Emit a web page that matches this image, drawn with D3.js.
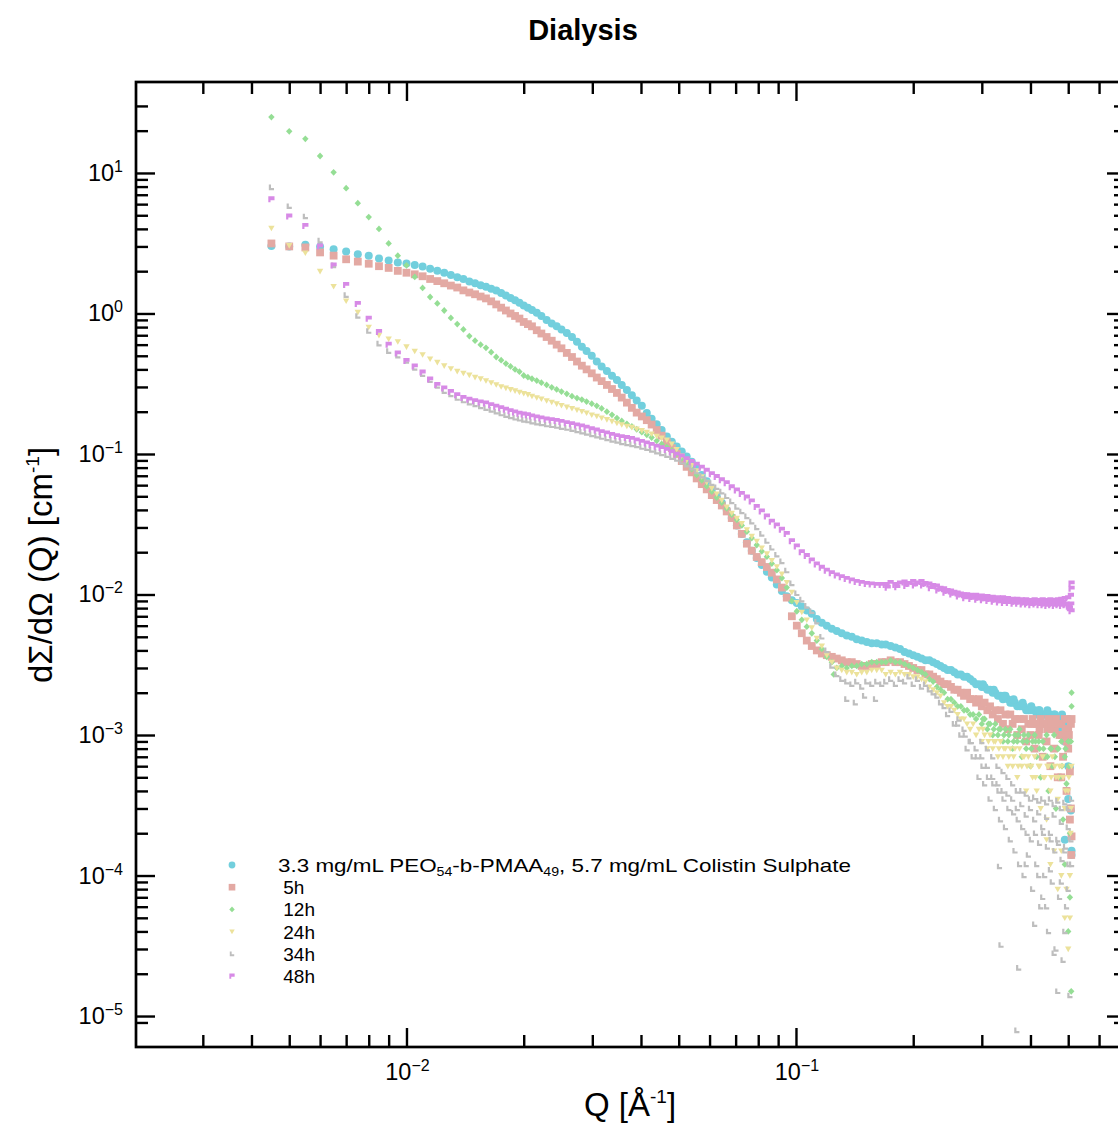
<!DOCTYPE html>
<html><head><meta charset="utf-8">
<script src="https://cdn.jsdelivr.net/npm/d3@7"></script>
<style>body{margin:0;background:#fff}svg{display:block}text{font-family:"Liberation Sans",Arial,Helvetica,sans-serif;fill:#000}</style>
</head><body><svg id="c" width="1118" height="1124"></svg>
<script>
// ---------- DATA ----------
const qValues = [
0.0045,0.0050,0.0055,0.0060,0.0065,0.0070,0.0075,0.0080,0.0085,0.0090,
0.0095,0.0100,0.0105,0.0110,0.0115,0.0120,0.0125,0.0130,0.0135,0.0140,
0.0145,0.0150,0.0155,0.0160,0.0165,0.0170,0.0175,0.0180,0.0185,0.0190,
0.0195,0.0200,
0.0205,0.0210,0.0216,0.0222,0.0229,0.0236,0.0243,0.0250,0.0258,0.0266,
0.0274,0.0282,0.0290,0.0299,0.0308,0.0317,0.0327,0.0337,0.0347,0.0357,
0.0368,0.0379,0.0390,0.0402,0.0414,0.0426,0.0439,0.0452,0.0466,0.0480,
0.0494,0.0509,0.0524,0.0540,0.0556,0.0573,0.0590,0.0608,0.0626,0.0645,
0.0664,0.0684,0.0705,0.0726,0.0748,0.0770,0.0793,0.0817,0.0842,0.0867,
0.0893,0.0920,0.0947,0.0976,0.1005,0.1035,0.1066,0.1098,0.1131,0.1165,
0.1200,0.1236,0.1273,0.1311,0.1350,0.1391,0.1432,0.1475,0.1520,0.1565,
0.1612,0.1660,
0.170,0.175,0.180,0.185,0.190,0.195,0.200,0.205,0.210,0.215,
0.220,0.225,0.230,0.235,0.240,0.245,0.250,0.255,0.260,0.265,
0.270,0.275,0.280,0.285,0.290,0.295,0.300,0.305,0.310,0.315,
0.320,0.325,0.330,0.335,0.340,0.345,0.350,0.355,0.360,0.365,
0.370,0.375,0.380,0.385,0.390,0.395,0.400,0.405,0.410,0.415,
0.420,0.425,0.430,0.435,0.440,0.445,0.450,0.455,0.460,0.465,
0.470,0.475,0.480,0.485,0.490,0.495,0.500,0.505,0.510];

const seriesNames = ["3.3 mg/mL PEO54-b-PMAA49, 5.7 mg/mL Colistin Sulphate"," 5h"," 12h"," 24h"," 34h"," 48h"];

const iStart = [
3.02,3.00,3.08,2.98,2.86,2.76,2.64,2.58,2.46,2.38,
2.31,2.27,2.21,2.16,2.08,2.01,1.95,1.88,1.81,1.76,
1.69,1.64,1.59,1.55,1.50,1.46,1.40,1.34,1.29,1.24,
1.19,1.14,
1.10,1.06,1.01,0.96,0.90,0.85,0.81,0.77,0.727,0.68,
0.63,0.58,0.54,0.50,0.455,0.42,0.39,0.36,0.336,0.31,
0.285,0.262,0.24,0.22,0.196,0.178,0.163,0.148,0.133,0.122,
0.113,0.104,0.096,0.088,0.080,0.071,0.064,0.056,0.050,0.045,
0.040,0.035,0.031,0.027,0.0235,0.0205,0.0182,0.0162,0.0145,0.0132,
0.0118,0.0106,0.0097,0.0091,0.0087,0.0082,0.0077,0.0073,0.0067,0.0063,
0.0060,0.0057,0.0055,0.0053,0.0051,0.0050,0.0048,0.0047,0.0046,0.0045,
0.0045,0.0044,
0.0044,0.0043,0.0042,0.0041,0.0039,0.0038,0.0037,0.0036,0.0035,0.0034,
0.0034,0.0033,0.0032,0.0031,0.0030,0.0029,0.0029,0.0028,0.0027,0.0027,
0.0026,0.0026,0.0025,0.0024,0.0023,0.0023,0.0022,0.0022,0.0021,0.0021,
0.0020,0.0020,0.0019,0.0019,0.0018,0.0019,0.0018,0.0017,0.0017,0.0017,
0.0016,0.0016,0.0016,0.0016,0.0015,0.0015,0.0015,0.0015,0.0015,0.0014,
0.0015,0.0014,0.0014,0.0014,0.0014,0.0013,0.0014,0.0013,0.0014,0.0013,
0.0012,0.0013,0.0011,0.0012,0.0009,0.0012,0.0006,0.0003,0.00015];

const i5h = [
3.15,3.00,2.95,2.72,2.58,2.43,2.34,2.26,2.17,2.11,
2.01,1.95,1.90,1.84,1.76,1.70,1.64,1.58,1.53,1.46,
1.41,1.37,1.32,1.28,1.22,1.16,1.10,1.05,1.00,0.96,
0.92,0.87,
0.84,0.81,0.76,0.72,0.68,0.64,0.60,0.565,0.524,0.49,
0.455,0.425,0.40,0.375,0.35,0.33,0.31,0.29,0.272,0.252,
0.232,0.213,0.197,0.185,0.174,0.162,0.148,0.135,0.121,0.110,
0.100,0.089,0.081,0.074,0.067,0.061,0.056,0.051,0.047,0.043,
0.039,0.035,0.031,0.027,0.023,0.0205,0.0185,0.0170,0.0157,0.0143,
0.0128,0.0112,0.0095,0.0070,0.0060,0.0053,0.0047,0.0043,0.0040,0.0038,
0.0037,0.0036,0.0035,0.0034,0.0033,0.0033,0.0032,0.0031,0.0031,0.0032,
0.0032,0.0033,
0.0033,0.0034,0.0033,0.0033,0.0032,0.0031,0.0030,0.0029,0.0029,0.0027,
0.0027,0.0026,0.0025,0.0024,0.0023,0.0023,0.0022,0.0021,0.0021,0.0020,
0.0019,0.0020,0.0018,0.0018,0.0017,0.0018,0.0016,0.0017,0.0015,0.0016,
0.0014,0.0015,0.0013,0.0015,0.0012,0.0014,0.0011,0.0014,0.0012,0.0013,
0.0010,0.0013,0.0011,0.0013,0.0009,0.0012,0.0010,0.0013,0.0008,0.0012,
0.0010,0.0013,0.0007,0.0012,0.0009,0.0013,0.0006,0.0011,0.0008,0.0013,
0.0005,0.0010,0.0012,0.0007,0.0013,0.0004,0.0011,0.00025,0.0013];

const i12h = [
25.0,19.8,17.5,13.2,10.1,7.8,6.1,4.85,4.0,3.15,
2.58,2.20,1.82,1.52,1.31,1.18,1.05,0.93,0.84,0.77,
0.69,0.64,0.60,0.57,0.53,0.49,0.465,0.44,0.42,0.40,
0.385,0.362,
0.352,0.343,0.333,0.322,0.310,0.298,0.288,0.278,0.268,0.258,
0.250,0.244,0.236,0.228,0.220,0.211,0.200,0.190,0.180,0.172,
0.164,0.157,0.150,0.143,0.137,0.131,0.124,0.118,0.112,0.106,
0.100,0.093,0.086,0.078,0.071,0.065,0.059,0.054,0.049,0.045,
0.041,0.037,0.034,0.031,0.028,0.0252,0.0225,0.0203,0.0186,0.0166,
0.0149,0.0131,0.0112,0.0090,0.0076,0.0066,0.0059,0.0053,0.0047,0.0041,
0.0036,0.0033,0.0030,0.0031,0.0030,0.0031,0.0031,0.0032,0.0032,0.0033,
0.0033,0.0033,
0.0033,0.0034,0.0033,0.0033,0.0032,0.0031,0.0030,0.0029,0.0028,0.0027,
0.0025,0.0024,0.0022,0.0021,0.0020,0.0018,0.0018,0.0017,0.0016,0.0016,
0.0015,0.0015,0.0014,0.0014,0.0013,0.0014,0.0012,0.0013,0.0011,0.0012,
0.0010,0.0012,0.0010,0.0011,0.0009,0.0011,0.0009,0.0011,0.0008,0.0010,
0.0009,0.0011,0.0007,0.0010,0.0008,0.0010,0.0006,0.0009,0.0010,0.0007,
0.0009,0.0005,0.0009,0.0007,0.0010,0.0004,0.0008,0.0006,0.0010,0.0003,
0.0008,0.0005,0.0009,0.00025,0.0007,0.00045,0.0009,0.0002,0.0020];

const i24h = [
4.05,3.05,2.70,2.00,1.56,1.23,1.02,0.80,0.70,0.66,
0.63,0.58,0.54,0.51,0.475,0.45,0.425,0.405,0.388,0.376,
0.365,0.352,0.343,0.333,0.322,0.312,0.302,0.295,0.288,0.282,
0.276,0.270,
0.265,0.258,0.252,0.247,0.240,0.234,0.228,0.222,0.216,0.211,
0.206,0.201,0.196,0.190,0.186,0.181,0.176,0.171,0.166,0.162,
0.158,0.155,0.151,0.147,0.143,0.139,0.134,0.130,0.126,0.118,
0.108,0.097,0.090,0.083,0.076,0.069,0.063,0.057,0.052,0.047,
0.042,0.038,0.035,0.032,0.029,0.026,0.024,0.0215,0.0195,0.0175,
0.0158,0.0140,0.0122,0.0104,0.0088,0.0075,0.0066,0.0058,0.0049,0.0043,
0.0037,0.0033,0.0030,0.0029,0.0028,0.0028,0.0027,0.0028,0.0028,0.0029,
0.0029,0.0029,
0.0027,0.0028,0.0027,0.0028,0.0027,0.0027,0.0026,0.0026,0.0025,0.0024,
0.0022,0.0021,0.0020,0.0019,0.0017,0.0016,0.0016,0.0015,0.0014,0.0013,
0.0013,0.0012,0.0011,0.0012,0.0010,0.0011,0.0009,0.0010,0.0008,0.0010,
0.0008,0.0009,0.0007,0.0009,0.0007,0.0008,0.0006,0.0008,0.0006,0.0008,
0.0005,0.0008,0.0006,0.0007,0.0004,0.0007,0.0006,0.0005,0.0007,0.0004,
0.0006,0.0003,0.0007,0.0005,0.00025,0.0006,0.0004,0.0007,0.00015,0.0005,
0.00035,0.0006,0.0001,0.0005,0.0003,0.00008,0.0004,0.00005,0.0006];

const i34h = [
7.9,5.8,4.9,3.3,2.2,1.35,0.96,0.75,0.61,0.54,
0.50,0.46,0.41,0.37,0.335,0.305,0.28,0.265,0.25,0.24,
0.232,0.225,0.218,0.212,0.206,0.200,0.194,0.189,0.185,0.181,
0.178,0.175,
0.173,0.170,0.167,0.165,0.162,0.160,0.158,0.155,0.153,0.150,
0.147,0.144,0.141,0.138,0.135,0.132,0.129,0.126,0.124,0.121,
0.119,0.117,0.115,0.112,0.110,0.107,0.104,0.101,0.098,0.095,
0.092,0.088,0.084,0.080,0.075,0.070,0.066,0.062,0.058,0.054,
0.050,0.046,0.042,0.039,0.036,0.033,0.030,0.027,0.024,0.0215,
0.0192,0.0172,0.0148,0.0120,0.0102,0.0092,0.0083,0.0076,0.0064,0.0050,
0.0040,0.0031,0.0027,0.0025,0.0024,0.0023,0.0024,0.0022,0.0024,0.0023,
0.0024,0.0023,
0.0024,0.0025,0.0023,0.0025,0.0024,0.0026,0.0023,0.0025,0.0022,0.0023,
0.0021,0.0020,0.0019,0.0017,0.0016,0.0014,0.0015,0.0012,0.0012,0.0010,
0.0011,0.0008,0.0009,0.0007,0.0008,0.0005,0.0007,0.00045,0.0006,0.00035,
0.0005,0.0003,0.00045,0.00025,0.0004,0.00022,0.00038,0.00018,0.00035,0.00015,
0.0003,0.00012,0.00032,0.0001,0.00027,0.00014,0.0003,0.00008,0.00025,0.00012,
0.00028,0.00006,0.00022,0.0001,0.00026,0.00004,0.0002,0.00009,0.00027,0.00003,
0.00018,0.00007,0.00024,0.000025,0.00015,0.00006,0.00022,0.000014,0.00012];

const i48h = [
6.5,4.9,4.2,3.0,2.2,1.6,1.17,0.92,0.74,0.60,
0.52,0.46,0.42,0.38,0.34,0.31,0.293,0.277,0.262,0.251,
0.244,0.238,0.233,0.229,0.223,0.217,0.212,0.207,0.202,0.198,
0.194,0.191,
0.189,0.185,0.182,0.179,0.176,0.174,0.172,0.169,0.166,0.163,
0.160,0.157,0.154,0.150,0.147,0.143,0.140,0.137,0.134,0.132,
0.130,0.128,0.125,0.122,0.119,0.116,0.113,0.110,0.107,0.103,
0.099,0.096,0.092,0.088,0.084,0.080,0.076,0.072,0.0686,0.065,
0.062,0.058,0.055,0.052,0.049,0.046,0.042,0.039,0.036,0.033,
0.031,0.029,0.027,0.024,0.022,0.020,0.0188,0.0175,0.0164,0.0155,
0.0148,0.0142,0.0137,0.0133,0.0129,0.0126,0.0123,0.0121,0.0119,0.0118,
0.0117,0.0117,
0.0117,0.0121,0.0117,0.0120,0.0122,0.0119,0.0123,0.0120,0.0123,0.0119,
0.0118,0.0115,0.0114,0.0110,0.0109,0.0106,0.0105,0.0103,0.0102,0.0100,
0.0099,0.0099,0.0098,0.0096,0.0098,0.0095,0.0097,0.0094,0.0096,0.0093,
0.0095,0.0092,0.0094,0.0091,0.0094,0.0090,0.0093,0.0090,0.0092,0.0089,
0.0092,0.0089,0.0091,0.0088,0.0091,0.0087,0.0090,0.0088,0.0091,0.0087,
0.0090,0.0087,0.0091,0.0086,0.0090,0.0087,0.0091,0.0086,0.0090,0.0087,
0.0091,0.0086,0.0092,0.0087,0.0093,0.0085,0.0094,0.0080,0.0110];

// extra scattered points read from the noisy high-Q tail: [Q, I]
const extraStart = [[0.302,0.0023],[0.322,0.0021],[0.342,0.0019],[0.362,0.0018],[0.382,0.0017],[0.402,0.0016],
[0.422,0.0015],[0.442,0.0015],[0.462,0.0014],[0.482,0.0014],[0.502,0.0013],
[0.490,0.00018],[0.500,0.00035],[0.505,0.00059],[0.508,0.00029],[0.510,0.00014]];
const extra5h = [[0.402,0.0012],[0.412,0.0012],[0.422,0.0011],[0.432,0.0012],[0.442,0.0011],[0.452,0.0012],
[0.462,0.0011],[0.472,0.0012],[0.482,0.0010],[0.492,0.0011],[0.502,0.0010],[0.508,0.0012],
[0.480,0.0005],[0.495,0.0009],[0.500,0.0008],[0.505,0.00055],[0.508,0.00030],[0.509,0.00014],[0.510,0.00019]];
const extra12h = [[0.125,0.0027],[0.302,0.0013],[0.312,0.0012],[0.322,0.0011],[0.332,0.0011],[0.342,0.0010],
[0.352,0.0010],[0.362,0.0009],[0.372,0.0010],[0.382,0.0009],[0.392,0.0009],[0.402,0.0008],[0.412,0.0009],
[0.422,0.0008],[0.432,0.0008],[0.442,0.0007],[0.452,0.0008],[0.462,0.0007],[0.472,0.0008],[0.482,0.0006],
[0.492,0.0008],[0.502,0.0006],[0.508,0.0009],
[0.490,0.00012],[0.500,0.00004],[0.505,0.00007],[0.509,0.000015],[0.510,0.0016]];
const extra24h = [[0.302,0.0011],[0.312,0.0009],[0.322,0.0009],[0.332,0.0008],[0.342,0.0008],[0.352,0.0007],
[0.362,0.0007],[0.372,0.0006],[0.382,0.0007],[0.392,0.0006],[0.402,0.0006],[0.412,0.0005],[0.422,0.0006],
[0.432,0.0005],[0.442,0.0006],[0.452,0.0005],[0.462,0.0006],[0.472,0.0005],[0.482,0.0006],[0.492,0.0004],
[0.502,0.0005],[0.508,0.0003],[0.507,0.0002],
[0.440,0.00018],[0.450,0.00012],[0.470,0.00008],[0.480,0.00015],[0.490,0.00005],[0.500,0.00003],[0.505,0.0001]];
const extra34h = [[0.135,0.0018],[0.142,0.0017],[0.150,0.0019],[0.160,0.0018],
[0.262,0.0013],[0.272,0.0010],[0.282,0.0009],[0.292,0.0007],[0.302,0.0006],[0.312,0.0005],[0.322,0.00045],
[0.332,0.0004],[0.342,0.00035],[0.352,0.0003],[0.362,0.00028],[0.372,0.00025],[0.382,0.00022],[0.392,0.0002],
[0.402,0.00018],[0.412,0.0002],[0.422,0.00017],[0.432,0.0002],[0.442,0.00016],[0.452,0.00018],[0.462,0.00015],
[0.472,0.00017],[0.482,0.00013],[0.492,0.00016],[0.502,0.00012],[0.508,0.00018],
[0.30,0.0009],[0.31,0.0008],[0.32,0.0007],[0.33,0.0006],[0.34,0.00055],[0.35,0.0005],[0.36,0.00045],
[0.37,0.0004],[0.38,0.0004],[0.39,0.00038],[0.40,0.00035],[0.41,0.00036],[0.42,0.00034],[0.43,0.00035],
[0.44,0.00033],[0.45,0.00035],[0.46,0.00032],[0.47,0.00034],[0.48,0.0003],[0.49,0.00033],[0.50,0.0003],[0.51,0.00035],
[0.39,0.00012],[0.42,0.0001],[0.45,0.00011],[0.48,0.00009],[0.50,0.00008],[0.43,0.00007],
[0.333,0.000116],[0.336,0.000032],[0.373,0.000022],[0.369,0.0000079],[0.41,0.000045],[0.44,0.00006],
[0.46,0.000028],[0.47,0.000015],[0.49,0.00004]];
const extra48h = [[0.172,0.0112],[0.182,0.0113],[0.192,0.0115],[0.202,0.0116],[0.212,0.0116],[0.222,0.0111],
[0.232,0.0107],[0.242,0.0103],[0.252,0.0100],[0.262,0.0097],[0.272,0.0094],[0.282,0.0093],[0.292,0.0092],
[0.302,0.0091],[0.312,0.0090],[0.322,0.0089],[0.332,0.0088],[0.342,0.0087],[0.352,0.0087],[0.362,0.0086],
[0.372,0.0086],[0.382,0.0085],[0.392,0.0085],[0.402,0.0084],[0.412,0.0085],[0.422,0.0084],[0.432,0.0084],
[0.442,0.0083],[0.452,0.0084],[0.462,0.0083],[0.472,0.0084],[0.482,0.0083],[0.492,0.0084],[0.502,0.0082],
[0.508,0.0098],[0.509,0.0085],[0.510,0.0120],[0.510,0.0076]];

const seriesValues = [iStart, i5h, i12h, i24h, i34h, i48h];
const seriesExtras = [extraStart, extra5h, extra12h, extra24h, extra34h, extra48h];
const seriesColors = ["#72cfdd","#e3a9a3","#95de95","#ece29b","#bebebe","#d78ae6"];

const xMajorTicks = [0.01, 0.1];
const xMinorTicks = [0.003,0.004,0.005,0.006,0.007,0.008,0.009,0.02,0.03,0.04,0.05,0.06,0.07,0.08,0.09,0.2,0.3,0.4,0.5,0.6,0.7];
const yMajorTicks = [1e-5,1e-4,1e-3,1e-2,1e-1,1,10];
const yMinorTicks = [9e-6,
2e-5,3e-5,4e-5,5e-5,6e-5,7e-5,8e-5,9e-5,
2e-4,3e-4,4e-4,5e-4,6e-4,7e-4,8e-4,9e-4,
2e-3,3e-3,4e-3,5e-3,6e-3,7e-3,8e-3,9e-3,
2e-2,3e-2,4e-2,5e-2,6e-2,7e-2,8e-2,9e-2,
0.2,0.3,0.4,0.5,0.6,0.7,0.8,0.9,
2,3,4,5,6,7,8,9,20,30];

// ---------- CHART ----------
const svg = d3.select("#c");
const M = {left:136, right:1126, top:82, bottom:1047};
const x = d3.scaleLog().domain([0.002021, 0.7036]).range([M.left, M.right]);
const y = d3.scaleLog().domain([6.02e-6, 44.4]).range([M.bottom, M.top]);

svg.append("defs").append("clipPath").attr("id","plotclip")
  .append("rect").attr("x",M.left).attr("y",M.top).attr("width",M.right-M.left).attr("height",M.bottom-M.top);

// marker shapes
const shapes = [
  "M0,-4A4,4 0 1,1 0,4A4,4 0 1,1 0,-4Z",                    // circle
  "M-3.9,-3.9h7.8v7.8h-7.8Z",                                // square
  "M0,-3.4L3.2,0L0,3.4L-3.2,0Z",                             // diamond
  "M-3.2,-2.4h6.4L0,3.2Z",                                   // triangle down
  "M-2.6,-2.8h2.2v3.4h3v2.2h-5.2Z",                          // L shape
  "M-3.1,-2.9h6.2v3.8h-4v2.2h-2.2Z"                          // flag
];

const plot = svg.append("g").attr("clip-path","url(#plotclip)");
seriesValues.forEach((vals, si) => {
  const pts = qValues.map((q, k) => [q, vals[k]]).filter(d => d[1] != null).concat(seriesExtras[si]);
  plot.append("g").attr("fill", seriesColors[si])
    .selectAll("path").data(pts).join("path")
    .attr("d", shapes[si])
    .attr("transform", d => `translate(${x(d[0]).toFixed(2)},${y(d[1]).toFixed(2)})`);
});

// axes (ticks inside)
function styleAxis(g){ g.select(".domain").remove(); g.selectAll(".tick line").attr("stroke","#000").attr("stroke-width",2.4); g.selectAll(".tick text").remove(); }
const W = M.right - M.left, H = M.bottom - M.top;
[[d3.axisBottom, M.bottom],[d3.axisTop, M.top]].forEach(([ax, pos]) => {
  svg.append("g").attr("transform",`translate(0,${pos})`).call(ax(x).tickValues(xMinorTicks).tickSize(-12).tickSizeOuter(0)).call(styleAxis);
  svg.append("g").attr("transform",`translate(0,${pos})`).call(ax(x).tickValues(xMajorTicks).tickSize(-19).tickSizeOuter(0)).call(styleAxis);
});
[[d3.axisLeft, M.left],[d3.axisRight, M.right]].forEach(([ax, pos]) => {
  svg.append("g").attr("transform",`translate(${pos},0)`).call(ax(y).tickValues(yMinorTicks).tickSize(-12).tickSizeOuter(0)).call(styleAxis);
  svg.append("g").attr("transform",`translate(${pos},0)`).call(ax(y).tickValues(yMajorTicks).tickSize(-19).tickSizeOuter(0)).call(styleAxis);
});
svg.append("rect").attr("x",M.left).attr("y",M.top).attr("width",W).attr("height",H)
  .attr("fill","none").attr("stroke","#000").attr("stroke-width",2.7);

function expLabel(sel, v){
  const e = Math.round(Math.log10(v));
  sel.append("tspan").text("10");
  sel.append("tspan").attr("dy",-9).attr("font-size",16).text(e < 0 ? "\u2212" + (-e) : String(e));
}
xMajorTicks.forEach(v => {
  svg.append("text").attr("x", x(v)+1).attr("y", 1080).attr("text-anchor","middle").attr("font-size",23.5).call(expLabel, v);
});
yMajorTicks.forEach(v => {
  svg.append("text").attr("x", 123).attr("y", y(v)+8).attr("text-anchor","end").attr("font-size",23.5).call(expLabel, v);
});

// title & axis labels
svg.append("text").attr("x",583).attr("y",40).attr("text-anchor","middle").attr("font-size",29).attr("font-weight","bold").text("Dialysis");
const xl = svg.append("text").attr("x",630).attr("y",1116).attr("text-anchor","middle").attr("font-size",33);
xl.append("tspan").text("Q [Å");
xl.append("tspan").attr("dy",-13).attr("font-size",19).text("-1");
xl.append("tspan").attr("dy",13).text("]");
const yl = svg.append("text").attr("transform","translate(52,565) rotate(-90)").attr("text-anchor","middle").attr("font-size",33);
yl.append("tspan").text("dΣ/dΩ (Q) [cm");
yl.append("tspan").attr("dy",-13).attr("font-size",19).text("-1");
yl.append("tspan").attr("dy",13).text("]");

// legend
const legendY0 = 865, legendStep = 22.2;
seriesNames.forEach((name, si) => {
  const ly = legendY0 + si*legendStep;
  svg.append("path").attr("d", shapes[si]).attr("fill", seriesColors[si]).attr("transform",`translate(232,${ly}) scale(0.85)`);
  const t = svg.append("text").attr("x",278).attr("y",ly+7).attr("font-size",19).style("white-space","pre");
  const parts = name.split(/(PEO|PMAA)(\d+)/);
  let shift = 0;
  for (let k = 0; k < parts.length; k++) {
    if (!parts[k]) continue;
    const isSub = /^\d+$/.test(parts[k]) && k > 0 && /^(PEO|PMAA)$/.test(parts[k-1]);
    const target = isSub ? 4 : 0;
    const ts = t.append("tspan").attr("dy", target - shift).text(parts[k]);
    if (isSub) ts.attr("font-size",12);
    shift = target;
  }
  if (si === 0) t.attr("textLength", 573).attr("lengthAdjust","spacingAndGlyphs");
});
</script></body></html>
